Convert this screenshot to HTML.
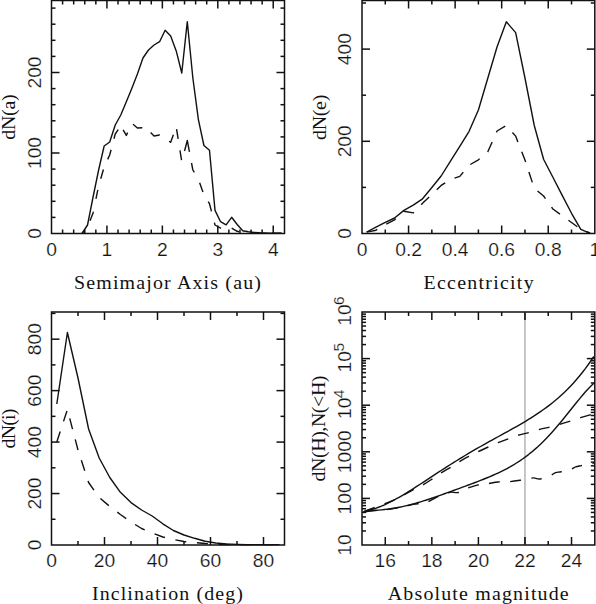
<!DOCTYPE html>
<html><head><meta charset="utf-8"><style>
html,body{margin:0;padding:0;background:#fff;overflow:hidden;width:596px;height:604px;}
svg{display:block;}
</style></head><body>
<svg width="596" height="604" viewBox="0 0 596 604">
<rect width="596" height="604" fill="#fff"/>
<rect x="51.5" y="0.5" width="233.0" height="233.0" fill="none" stroke="#111" stroke-width="1.5"/>
<line x1="62.59" y1="233.50" x2="62.59" y2="229.50" stroke="#111" stroke-width="1.5"/>
<line x1="62.59" y1="0.50" x2="62.59" y2="4.50" stroke="#111" stroke-width="1.5"/>
<line x1="73.67" y1="233.50" x2="73.67" y2="229.50" stroke="#111" stroke-width="1.5"/>
<line x1="73.67" y1="0.50" x2="73.67" y2="4.50" stroke="#111" stroke-width="1.5"/>
<line x1="84.76" y1="233.50" x2="84.76" y2="229.50" stroke="#111" stroke-width="1.5"/>
<line x1="84.76" y1="0.50" x2="84.76" y2="4.50" stroke="#111" stroke-width="1.5"/>
<line x1="95.84" y1="233.50" x2="95.84" y2="229.50" stroke="#111" stroke-width="1.5"/>
<line x1="95.84" y1="0.50" x2="95.84" y2="4.50" stroke="#111" stroke-width="1.5"/>
<line x1="106.93" y1="233.50" x2="106.93" y2="225.50" stroke="#111" stroke-width="1.5"/>
<line x1="106.93" y1="0.50" x2="106.93" y2="8.50" stroke="#111" stroke-width="1.5"/>
<line x1="118.02" y1="233.50" x2="118.02" y2="229.50" stroke="#111" stroke-width="1.5"/>
<line x1="118.02" y1="0.50" x2="118.02" y2="4.50" stroke="#111" stroke-width="1.5"/>
<line x1="129.10" y1="233.50" x2="129.10" y2="229.50" stroke="#111" stroke-width="1.5"/>
<line x1="129.10" y1="0.50" x2="129.10" y2="4.50" stroke="#111" stroke-width="1.5"/>
<line x1="140.19" y1="233.50" x2="140.19" y2="229.50" stroke="#111" stroke-width="1.5"/>
<line x1="140.19" y1="0.50" x2="140.19" y2="4.50" stroke="#111" stroke-width="1.5"/>
<line x1="151.27" y1="233.50" x2="151.27" y2="229.50" stroke="#111" stroke-width="1.5"/>
<line x1="151.27" y1="0.50" x2="151.27" y2="4.50" stroke="#111" stroke-width="1.5"/>
<line x1="162.36" y1="233.50" x2="162.36" y2="225.50" stroke="#111" stroke-width="1.5"/>
<line x1="162.36" y1="0.50" x2="162.36" y2="8.50" stroke="#111" stroke-width="1.5"/>
<line x1="173.45" y1="233.50" x2="173.45" y2="229.50" stroke="#111" stroke-width="1.5"/>
<line x1="173.45" y1="0.50" x2="173.45" y2="4.50" stroke="#111" stroke-width="1.5"/>
<line x1="184.53" y1="233.50" x2="184.53" y2="229.50" stroke="#111" stroke-width="1.5"/>
<line x1="184.53" y1="0.50" x2="184.53" y2="4.50" stroke="#111" stroke-width="1.5"/>
<line x1="195.62" y1="233.50" x2="195.62" y2="229.50" stroke="#111" stroke-width="1.5"/>
<line x1="195.62" y1="0.50" x2="195.62" y2="4.50" stroke="#111" stroke-width="1.5"/>
<line x1="206.70" y1="233.50" x2="206.70" y2="229.50" stroke="#111" stroke-width="1.5"/>
<line x1="206.70" y1="0.50" x2="206.70" y2="4.50" stroke="#111" stroke-width="1.5"/>
<line x1="217.79" y1="233.50" x2="217.79" y2="225.50" stroke="#111" stroke-width="1.5"/>
<line x1="217.79" y1="0.50" x2="217.79" y2="8.50" stroke="#111" stroke-width="1.5"/>
<line x1="228.88" y1="233.50" x2="228.88" y2="229.50" stroke="#111" stroke-width="1.5"/>
<line x1="228.88" y1="0.50" x2="228.88" y2="4.50" stroke="#111" stroke-width="1.5"/>
<line x1="239.96" y1="233.50" x2="239.96" y2="229.50" stroke="#111" stroke-width="1.5"/>
<line x1="239.96" y1="0.50" x2="239.96" y2="4.50" stroke="#111" stroke-width="1.5"/>
<line x1="251.05" y1="233.50" x2="251.05" y2="229.50" stroke="#111" stroke-width="1.5"/>
<line x1="251.05" y1="0.50" x2="251.05" y2="4.50" stroke="#111" stroke-width="1.5"/>
<line x1="262.13" y1="233.50" x2="262.13" y2="229.50" stroke="#111" stroke-width="1.5"/>
<line x1="262.13" y1="0.50" x2="262.13" y2="4.50" stroke="#111" stroke-width="1.5"/>
<line x1="273.22" y1="233.50" x2="273.22" y2="225.50" stroke="#111" stroke-width="1.5"/>
<line x1="273.22" y1="0.50" x2="273.22" y2="8.50" stroke="#111" stroke-width="1.5"/>
<line x1="51.50" y1="217.40" x2="55.50" y2="217.40" stroke="#111" stroke-width="1.5"/>
<line x1="284.50" y1="217.40" x2="280.50" y2="217.40" stroke="#111" stroke-width="1.5"/>
<line x1="51.50" y1="201.30" x2="55.50" y2="201.30" stroke="#111" stroke-width="1.5"/>
<line x1="284.50" y1="201.30" x2="280.50" y2="201.30" stroke="#111" stroke-width="1.5"/>
<line x1="51.50" y1="185.20" x2="55.50" y2="185.20" stroke="#111" stroke-width="1.5"/>
<line x1="284.50" y1="185.20" x2="280.50" y2="185.20" stroke="#111" stroke-width="1.5"/>
<line x1="51.50" y1="169.10" x2="55.50" y2="169.10" stroke="#111" stroke-width="1.5"/>
<line x1="284.50" y1="169.10" x2="280.50" y2="169.10" stroke="#111" stroke-width="1.5"/>
<line x1="51.50" y1="153.00" x2="59.50" y2="153.00" stroke="#111" stroke-width="1.5"/>
<line x1="284.50" y1="153.00" x2="276.50" y2="153.00" stroke="#111" stroke-width="1.5"/>
<line x1="51.50" y1="136.90" x2="55.50" y2="136.90" stroke="#111" stroke-width="1.5"/>
<line x1="284.50" y1="136.90" x2="280.50" y2="136.90" stroke="#111" stroke-width="1.5"/>
<line x1="51.50" y1="120.80" x2="55.50" y2="120.80" stroke="#111" stroke-width="1.5"/>
<line x1="284.50" y1="120.80" x2="280.50" y2="120.80" stroke="#111" stroke-width="1.5"/>
<line x1="51.50" y1="104.70" x2="55.50" y2="104.70" stroke="#111" stroke-width="1.5"/>
<line x1="284.50" y1="104.70" x2="280.50" y2="104.70" stroke="#111" stroke-width="1.5"/>
<line x1="51.50" y1="88.60" x2="55.50" y2="88.60" stroke="#111" stroke-width="1.5"/>
<line x1="284.50" y1="88.60" x2="280.50" y2="88.60" stroke="#111" stroke-width="1.5"/>
<line x1="51.50" y1="72.50" x2="59.50" y2="72.50" stroke="#111" stroke-width="1.5"/>
<line x1="284.50" y1="72.50" x2="276.50" y2="72.50" stroke="#111" stroke-width="1.5"/>
<line x1="51.50" y1="56.40" x2="55.50" y2="56.40" stroke="#111" stroke-width="1.5"/>
<line x1="284.50" y1="56.40" x2="280.50" y2="56.40" stroke="#111" stroke-width="1.5"/>
<line x1="51.50" y1="40.30" x2="55.50" y2="40.30" stroke="#111" stroke-width="1.5"/>
<line x1="284.50" y1="40.30" x2="280.50" y2="40.30" stroke="#111" stroke-width="1.5"/>
<line x1="51.50" y1="24.20" x2="55.50" y2="24.20" stroke="#111" stroke-width="1.5"/>
<line x1="284.50" y1="24.20" x2="280.50" y2="24.20" stroke="#111" stroke-width="1.5"/>
<line x1="51.50" y1="8.10" x2="55.50" y2="8.10" stroke="#111" stroke-width="1.5"/>
<line x1="284.50" y1="8.10" x2="280.50" y2="8.10" stroke="#111" stroke-width="1.5"/>
<polyline points="81.99,233.50 87.53,225.00 93.07,197.00 98.62,170.00 104.16,146.00 109.70,142.00 115.24,125.00 120.79,115.00 126.33,101.70 131.87,88.30 137.42,74.00 142.96,58.00 148.50,50.00 154.05,45.00 159.59,41.70 165.13,30.30 170.67,36.10 176.22,50.90 181.76,73.00 187.30,21.70 192.85,78.00 198.39,119.60 203.93,145.50 209.48,150.20 215.02,210.40 220.56,221.70 226.10,224.80 231.65,217.30 237.19,224.50 242.73,230.80 248.28,231.80 253.82,232.40 259.36,232.80 264.91,233.00 270.45,233.10 275.99,233.20 281.53,233.20" fill="none" stroke="#111" stroke-width="1.4" stroke-linejoin="round"/>
<polyline points="82.32,233.11 84.31,230.77" fill="none" stroke="#111" stroke-width="1.4" stroke-linejoin="round"/>
<polyline points="90.01,220.75 93.07,213.00 93.33,211.73" fill="none" stroke="#111" stroke-width="1.4" stroke-linejoin="round"/>
<polyline points="95.95,198.98 97.80,189.97" fill="none" stroke="#111" stroke-width="1.4" stroke-linejoin="round"/>
<polyline points="100.74,178.72 103.41,169.55" fill="none" stroke="#111" stroke-width="1.4" stroke-linejoin="round"/>
<polyline points="107.68,159.37 109.70,155.00 111.08,149.78" fill="none" stroke="#111" stroke-width="1.4" stroke-linejoin="round"/>
<polyline points="114.00,138.71 115.24,134.00 118.21,129.61" fill="none" stroke="#111" stroke-width="1.4" stroke-linejoin="round"/>
<polyline points="123.13,129.86 126.33,135.40 127.61,132.59" fill="none" stroke="#111" stroke-width="1.4" stroke-linejoin="round"/>
<polyline points="133.05,124.22 137.42,128.00 142.30,127.82" fill="none" stroke="#111" stroke-width="1.4" stroke-linejoin="round"/>
<polyline points="150.61,132.60 154.05,136.00 159.59,135.00 159.77,135.12" fill="none" stroke="#111" stroke-width="1.4" stroke-linejoin="round"/>
<polyline points="169.18,141.28 170.67,142.30 173.39,134.82" fill="none" stroke="#111" stroke-width="1.4" stroke-linejoin="round"/>
<polyline points="176.57,129.18 178.14,138.94" fill="none" stroke="#111" stroke-width="1.4" stroke-linejoin="round"/>
<polyline points="179.96,150.30 181.55,160.20" fill="none" stroke="#111" stroke-width="1.4" stroke-linejoin="round"/>
<polyline points="184.54,150.98 187.30,140.50 189.45,151.95" fill="none" stroke="#111" stroke-width="1.4" stroke-linejoin="round"/>
<polyline points="191.53,163.00 192.85,170.00 194.35,172.45" fill="none" stroke="#111" stroke-width="1.4" stroke-linejoin="round"/>
<polyline points="199.65,182.65 202.90,192.01" fill="none" stroke="#111" stroke-width="1.4" stroke-linejoin="round"/>
<polyline points="208.19,201.69 209.48,203.70 211.46,211.34" fill="none" stroke="#111" stroke-width="1.4" stroke-linejoin="round"/>
<polyline points="214.39,222.57 215.02,225.00 220.56,228.10 221.10,228.12" fill="none" stroke="#111" stroke-width="1.4" stroke-linejoin="round"/>
<polyline points="231.69,228.13 237.19,231.30 239.22,231.85" fill="none" stroke="#111" stroke-width="1.4" stroke-linejoin="round"/>
<polyline points="250.08,233.23 253.82,233.30 259.36,233.30 260.58,233.30" fill="none" stroke="#111" stroke-width="1.4" stroke-linejoin="round"/>
<polyline points="271.58,233.30 275.99,233.30 281.53,233.30" fill="none" stroke="#111" stroke-width="1.4" stroke-linejoin="round"/>
<text transform="translate(51.50,255.60) scale(1.07,1)" text-anchor="middle" font-family="&quot;Liberation Sans&quot;, sans-serif" font-size="18" fill="#111" stroke="#fff" stroke-width="0.2">0</text>
<text transform="translate(106.93,255.60) scale(1.07,1)" text-anchor="middle" font-family="&quot;Liberation Sans&quot;, sans-serif" font-size="18" fill="#111" stroke="#fff" stroke-width="0.2">1</text>
<text transform="translate(162.36,255.60) scale(1.07,1)" text-anchor="middle" font-family="&quot;Liberation Sans&quot;, sans-serif" font-size="18" fill="#111" stroke="#fff" stroke-width="0.2">2</text>
<text transform="translate(217.79,255.60) scale(1.07,1)" text-anchor="middle" font-family="&quot;Liberation Sans&quot;, sans-serif" font-size="18" fill="#111" stroke="#fff" stroke-width="0.2">3</text>
<text transform="translate(273.22,255.60) scale(1.07,1)" text-anchor="middle" font-family="&quot;Liberation Sans&quot;, sans-serif" font-size="18" fill="#111" stroke="#fff" stroke-width="0.2">4</text>
<text transform="translate(40.70,233.50) rotate(-90) scale(1.07,1)" text-anchor="middle" font-family="&quot;Liberation Sans&quot;, sans-serif" font-size="18" fill="#111" stroke="#fff" stroke-width="0.2">0</text>
<text transform="translate(40.70,153.00) rotate(-90) scale(1.07,1)" text-anchor="middle" font-family="&quot;Liberation Sans&quot;, sans-serif" font-size="18" fill="#111" stroke="#fff" stroke-width="0.2">100</text>
<text transform="translate(40.70,72.50) rotate(-90) scale(1.07,1)" text-anchor="middle" font-family="&quot;Liberation Sans&quot;, sans-serif" font-size="18" fill="#111" stroke="#fff" stroke-width="0.2">200</text>
<text transform="translate(74.00,289.00) scale(1.12,1)" font-family="&quot;Liberation Serif&quot;, serif" font-size="17.8" fill="#111" textLength="166.88" lengthAdjust="spacing">Semimajor Axis (au)</text>
<text transform="translate(14.90,139.80) rotate(-90) scale(1.12,1)" font-family="&quot;Liberation Serif&quot;, serif" font-size="17.8" fill="#111" textLength="40.62" lengthAdjust="spacing">dN(a)</text>
<rect x="362.0" y="0.5" width="232.79999999999995" height="233.0" fill="none" stroke="#111" stroke-width="1.5"/>
<line x1="385.28" y1="233.50" x2="385.28" y2="229.50" stroke="#111" stroke-width="1.5"/>
<line x1="385.28" y1="0.50" x2="385.28" y2="4.50" stroke="#111" stroke-width="1.5"/>
<line x1="408.56" y1="233.50" x2="408.56" y2="225.50" stroke="#111" stroke-width="1.5"/>
<line x1="408.56" y1="0.50" x2="408.56" y2="8.50" stroke="#111" stroke-width="1.5"/>
<line x1="431.84" y1="233.50" x2="431.84" y2="229.50" stroke="#111" stroke-width="1.5"/>
<line x1="431.84" y1="0.50" x2="431.84" y2="4.50" stroke="#111" stroke-width="1.5"/>
<line x1="455.12" y1="233.50" x2="455.12" y2="225.50" stroke="#111" stroke-width="1.5"/>
<line x1="455.12" y1="0.50" x2="455.12" y2="8.50" stroke="#111" stroke-width="1.5"/>
<line x1="478.40" y1="233.50" x2="478.40" y2="229.50" stroke="#111" stroke-width="1.5"/>
<line x1="478.40" y1="0.50" x2="478.40" y2="4.50" stroke="#111" stroke-width="1.5"/>
<line x1="501.68" y1="233.50" x2="501.68" y2="225.50" stroke="#111" stroke-width="1.5"/>
<line x1="501.68" y1="0.50" x2="501.68" y2="8.50" stroke="#111" stroke-width="1.5"/>
<line x1="524.96" y1="233.50" x2="524.96" y2="229.50" stroke="#111" stroke-width="1.5"/>
<line x1="524.96" y1="0.50" x2="524.96" y2="4.50" stroke="#111" stroke-width="1.5"/>
<line x1="548.24" y1="233.50" x2="548.24" y2="225.50" stroke="#111" stroke-width="1.5"/>
<line x1="548.24" y1="0.50" x2="548.24" y2="8.50" stroke="#111" stroke-width="1.5"/>
<line x1="571.52" y1="233.50" x2="571.52" y2="229.50" stroke="#111" stroke-width="1.5"/>
<line x1="571.52" y1="0.50" x2="571.52" y2="4.50" stroke="#111" stroke-width="1.5"/>
<line x1="362.00" y1="187.40" x2="366.00" y2="187.40" stroke="#111" stroke-width="1.5"/>
<line x1="594.80" y1="187.40" x2="590.80" y2="187.40" stroke="#111" stroke-width="1.5"/>
<line x1="362.00" y1="141.30" x2="370.00" y2="141.30" stroke="#111" stroke-width="1.5"/>
<line x1="594.80" y1="141.30" x2="586.80" y2="141.30" stroke="#111" stroke-width="1.5"/>
<line x1="362.00" y1="95.20" x2="366.00" y2="95.20" stroke="#111" stroke-width="1.5"/>
<line x1="594.80" y1="95.20" x2="590.80" y2="95.20" stroke="#111" stroke-width="1.5"/>
<line x1="362.00" y1="49.10" x2="370.00" y2="49.10" stroke="#111" stroke-width="1.5"/>
<line x1="594.80" y1="49.10" x2="586.80" y2="49.10" stroke="#111" stroke-width="1.5"/>
<line x1="362.00" y1="3.00" x2="366.00" y2="3.00" stroke="#111" stroke-width="1.5"/>
<line x1="594.80" y1="3.00" x2="590.80" y2="3.00" stroke="#111" stroke-width="1.5"/>
<polyline points="366.66,232.00 375.97,227.10 385.28,222.40 394.59,218.00 403.90,210.40 413.22,205.20 422.53,198.80 431.84,187.50 441.15,176.00 450.46,161.20 459.78,146.30 469.09,131.30 478.40,110.00 487.71,78.50 497.02,47.00 506.34,21.80 515.65,32.60 524.96,78.00 534.27,125.50 543.58,159.20 552.90,177.20 562.21,195.40 571.52,213.30 580.83,229.30 590.14,233.30" fill="none" stroke="#111" stroke-width="1.4" stroke-linejoin="round"/>
<polyline points="366.66,232.10 375.97,230.20 385.28,224.50 394.59,219.80 403.90,211.20 413.22,212.90 422.53,203.30 431.84,194.50 441.15,185.40 450.46,179.50 459.78,176.40 469.09,165.20 478.40,159.80 487.71,152.00 497.02,131.00 506.34,125.60 515.65,136.10 524.96,160.00 534.27,188.30 543.58,196.00 552.90,209.00 562.21,215.70 571.52,222.50 580.83,229.30 590.14,233.00" fill="none" stroke="#111" stroke-width="1.4" stroke-linejoin="round" stroke-dasharray="11,10.5" stroke-dashoffset="0"/>
<text transform="translate(362.00,255.60) scale(1.07,1)" text-anchor="middle" font-family="&quot;Liberation Sans&quot;, sans-serif" font-size="18" fill="#111" stroke="#fff" stroke-width="0.2">0</text>
<text transform="translate(408.56,255.60) scale(1.07,1)" text-anchor="middle" font-family="&quot;Liberation Sans&quot;, sans-serif" font-size="18" fill="#111" stroke="#fff" stroke-width="0.2">0.2</text>
<text transform="translate(455.12,255.60) scale(1.07,1)" text-anchor="middle" font-family="&quot;Liberation Sans&quot;, sans-serif" font-size="18" fill="#111" stroke="#fff" stroke-width="0.2">0.4</text>
<text transform="translate(501.68,255.60) scale(1.07,1)" text-anchor="middle" font-family="&quot;Liberation Sans&quot;, sans-serif" font-size="18" fill="#111" stroke="#fff" stroke-width="0.2">0.6</text>
<text transform="translate(548.24,255.60) scale(1.07,1)" text-anchor="middle" font-family="&quot;Liberation Sans&quot;, sans-serif" font-size="18" fill="#111" stroke="#fff" stroke-width="0.2">0.8</text>
<text transform="translate(594.80,255.60) scale(1.07,1)" text-anchor="middle" font-family="&quot;Liberation Sans&quot;, sans-serif" font-size="18" fill="#111" stroke="#fff" stroke-width="0.2">1</text>
<text transform="translate(351.20,233.50) rotate(-90) scale(1.07,1)" text-anchor="middle" font-family="&quot;Liberation Sans&quot;, sans-serif" font-size="18" fill="#111" stroke="#fff" stroke-width="0.2">0</text>
<text transform="translate(351.20,141.30) rotate(-90) scale(1.07,1)" text-anchor="middle" font-family="&quot;Liberation Sans&quot;, sans-serif" font-size="18" fill="#111" stroke="#fff" stroke-width="0.2">200</text>
<text transform="translate(351.20,49.10) rotate(-90) scale(1.07,1)" text-anchor="middle" font-family="&quot;Liberation Sans&quot;, sans-serif" font-size="18" fill="#111" stroke="#fff" stroke-width="0.2">400</text>
<text transform="translate(423.60,289.00) scale(1.12,1)" font-family="&quot;Liberation Serif&quot;, serif" font-size="17.8" fill="#111" textLength="98.21" lengthAdjust="spacing">Eccentricity</text>
<text transform="translate(326.00,140.00) rotate(-90) scale(1.12,1)" font-family="&quot;Liberation Serif&quot;, serif" font-size="17.8" fill="#111" textLength="40.45" lengthAdjust="spacing">dN(e)</text>
<rect x="51.5" y="312.0" width="233.0" height="233.0" fill="none" stroke="#111" stroke-width="1.5"/>
<line x1="78.00" y1="545.00" x2="78.00" y2="541.00" stroke="#111" stroke-width="1.5"/>
<line x1="78.00" y1="312.00" x2="78.00" y2="316.00" stroke="#111" stroke-width="1.5"/>
<line x1="104.50" y1="545.00" x2="104.50" y2="537.00" stroke="#111" stroke-width="1.5"/>
<line x1="104.50" y1="312.00" x2="104.50" y2="320.00" stroke="#111" stroke-width="1.5"/>
<line x1="131.00" y1="545.00" x2="131.00" y2="541.00" stroke="#111" stroke-width="1.5"/>
<line x1="131.00" y1="312.00" x2="131.00" y2="316.00" stroke="#111" stroke-width="1.5"/>
<line x1="157.50" y1="545.00" x2="157.50" y2="537.00" stroke="#111" stroke-width="1.5"/>
<line x1="157.50" y1="312.00" x2="157.50" y2="320.00" stroke="#111" stroke-width="1.5"/>
<line x1="184.00" y1="545.00" x2="184.00" y2="541.00" stroke="#111" stroke-width="1.5"/>
<line x1="184.00" y1="312.00" x2="184.00" y2="316.00" stroke="#111" stroke-width="1.5"/>
<line x1="210.50" y1="545.00" x2="210.50" y2="537.00" stroke="#111" stroke-width="1.5"/>
<line x1="210.50" y1="312.00" x2="210.50" y2="320.00" stroke="#111" stroke-width="1.5"/>
<line x1="237.00" y1="545.00" x2="237.00" y2="541.00" stroke="#111" stroke-width="1.5"/>
<line x1="237.00" y1="312.00" x2="237.00" y2="316.00" stroke="#111" stroke-width="1.5"/>
<line x1="263.50" y1="545.00" x2="263.50" y2="537.00" stroke="#111" stroke-width="1.5"/>
<line x1="263.50" y1="312.00" x2="263.50" y2="320.00" stroke="#111" stroke-width="1.5"/>
<line x1="51.50" y1="519.27" x2="55.50" y2="519.27" stroke="#111" stroke-width="1.5"/>
<line x1="284.50" y1="519.27" x2="280.50" y2="519.27" stroke="#111" stroke-width="1.5"/>
<line x1="51.50" y1="493.54" x2="59.50" y2="493.54" stroke="#111" stroke-width="1.5"/>
<line x1="284.50" y1="493.54" x2="276.50" y2="493.54" stroke="#111" stroke-width="1.5"/>
<line x1="51.50" y1="467.81" x2="55.50" y2="467.81" stroke="#111" stroke-width="1.5"/>
<line x1="284.50" y1="467.81" x2="280.50" y2="467.81" stroke="#111" stroke-width="1.5"/>
<line x1="51.50" y1="442.08" x2="59.50" y2="442.08" stroke="#111" stroke-width="1.5"/>
<line x1="284.50" y1="442.08" x2="276.50" y2="442.08" stroke="#111" stroke-width="1.5"/>
<line x1="51.50" y1="416.35" x2="55.50" y2="416.35" stroke="#111" stroke-width="1.5"/>
<line x1="284.50" y1="416.35" x2="280.50" y2="416.35" stroke="#111" stroke-width="1.5"/>
<line x1="51.50" y1="390.62" x2="59.50" y2="390.62" stroke="#111" stroke-width="1.5"/>
<line x1="284.50" y1="390.62" x2="276.50" y2="390.62" stroke="#111" stroke-width="1.5"/>
<line x1="51.50" y1="364.89" x2="55.50" y2="364.89" stroke="#111" stroke-width="1.5"/>
<line x1="284.50" y1="364.89" x2="280.50" y2="364.89" stroke="#111" stroke-width="1.5"/>
<line x1="51.50" y1="339.16" x2="59.50" y2="339.16" stroke="#111" stroke-width="1.5"/>
<line x1="284.50" y1="339.16" x2="276.50" y2="339.16" stroke="#111" stroke-width="1.5"/>
<line x1="51.50" y1="313.43" x2="55.50" y2="313.43" stroke="#111" stroke-width="1.5"/>
<line x1="284.50" y1="313.43" x2="280.50" y2="313.43" stroke="#111" stroke-width="1.5"/>
<polyline points="56.80,404.00 67.40,332.50 78.00,378.00 88.60,429.00 99.20,458.00 109.80,477.50 120.40,492.30 131.00,502.60 141.60,510.00 152.20,516.00 162.80,523.80 173.40,530.50 184.00,535.00 194.60,538.30 205.20,541.20 215.80,543.00 226.40,544.00 237.00,544.40 247.60,544.60 258.20,544.60 268.80,544.60 279.40,544.60" fill="none" stroke="#111" stroke-width="1.4" stroke-linejoin="round"/>
<polyline points="56.80,442.00 67.40,409.50 78.00,450.00 88.60,482.50 99.20,497.50 109.80,506.50 120.40,514.50 131.00,522.00 141.60,528.50 152.20,533.00 162.80,537.00 173.40,539.50 184.00,541.50 194.60,542.50 205.20,543.50 215.80,544.20 226.40,544.50 237.00,544.60 247.60,544.60 258.20,544.60 268.80,544.60 279.40,544.60" fill="none" stroke="#111" stroke-width="1.4" stroke-linejoin="round" stroke-dasharray="11,10.7" stroke-dashoffset="0"/>
<text transform="translate(51.50,566.90) scale(1.07,1)" text-anchor="middle" font-family="&quot;Liberation Sans&quot;, sans-serif" font-size="18" fill="#111" stroke="#fff" stroke-width="0.2">0</text>
<text transform="translate(104.50,566.90) scale(1.07,1)" text-anchor="middle" font-family="&quot;Liberation Sans&quot;, sans-serif" font-size="18" fill="#111" stroke="#fff" stroke-width="0.2">20</text>
<text transform="translate(157.50,566.90) scale(1.07,1)" text-anchor="middle" font-family="&quot;Liberation Sans&quot;, sans-serif" font-size="18" fill="#111" stroke="#fff" stroke-width="0.2">40</text>
<text transform="translate(210.50,566.90) scale(1.07,1)" text-anchor="middle" font-family="&quot;Liberation Sans&quot;, sans-serif" font-size="18" fill="#111" stroke="#fff" stroke-width="0.2">60</text>
<text transform="translate(263.50,566.90) scale(1.07,1)" text-anchor="middle" font-family="&quot;Liberation Sans&quot;, sans-serif" font-size="18" fill="#111" stroke="#fff" stroke-width="0.2">80</text>
<text transform="translate(40.70,545.00) rotate(-90) scale(1.07,1)" text-anchor="middle" font-family="&quot;Liberation Sans&quot;, sans-serif" font-size="18" fill="#111" stroke="#fff" stroke-width="0.2">0</text>
<text transform="translate(40.70,493.54) rotate(-90) scale(1.07,1)" text-anchor="middle" font-family="&quot;Liberation Sans&quot;, sans-serif" font-size="18" fill="#111" stroke="#fff" stroke-width="0.2">200</text>
<text transform="translate(40.70,442.08) rotate(-90) scale(1.07,1)" text-anchor="middle" font-family="&quot;Liberation Sans&quot;, sans-serif" font-size="18" fill="#111" stroke="#fff" stroke-width="0.2">400</text>
<text transform="translate(40.70,390.62) rotate(-90) scale(1.07,1)" text-anchor="middle" font-family="&quot;Liberation Sans&quot;, sans-serif" font-size="18" fill="#111" stroke="#fff" stroke-width="0.2">600</text>
<text transform="translate(40.70,339.16) rotate(-90) scale(1.07,1)" text-anchor="middle" font-family="&quot;Liberation Sans&quot;, sans-serif" font-size="18" fill="#111" stroke="#fff" stroke-width="0.2">800</text>
<text transform="translate(92.00,600.30) scale(1.12,1)" font-family="&quot;Liberation Serif&quot;, serif" font-size="17.8" fill="#111" textLength="134.73" lengthAdjust="spacing">Inclination (deg)</text>
<text transform="translate(14.90,448.50) rotate(-90) scale(1.12,1)" font-family="&quot;Liberation Serif&quot;, serif" font-size="17.8" fill="#111" textLength="35.71" lengthAdjust="spacing">dN(i)</text>
<rect x="362.0" y="312.0" width="232.79999999999995" height="233.0" fill="none" stroke="#111" stroke-width="1.5"/>
<line x1="385.28" y1="545.00" x2="385.28" y2="537.00" stroke="#111" stroke-width="1.5"/>
<line x1="385.28" y1="312.00" x2="385.28" y2="320.00" stroke="#111" stroke-width="1.5"/>
<line x1="408.56" y1="545.00" x2="408.56" y2="541.00" stroke="#111" stroke-width="1.5"/>
<line x1="408.56" y1="312.00" x2="408.56" y2="316.00" stroke="#111" stroke-width="1.5"/>
<line x1="431.84" y1="545.00" x2="431.84" y2="537.00" stroke="#111" stroke-width="1.5"/>
<line x1="431.84" y1="312.00" x2="431.84" y2="320.00" stroke="#111" stroke-width="1.5"/>
<line x1="455.12" y1="545.00" x2="455.12" y2="541.00" stroke="#111" stroke-width="1.5"/>
<line x1="455.12" y1="312.00" x2="455.12" y2="316.00" stroke="#111" stroke-width="1.5"/>
<line x1="478.40" y1="545.00" x2="478.40" y2="537.00" stroke="#111" stroke-width="1.5"/>
<line x1="478.40" y1="312.00" x2="478.40" y2="320.00" stroke="#111" stroke-width="1.5"/>
<line x1="501.68" y1="545.00" x2="501.68" y2="541.00" stroke="#111" stroke-width="1.5"/>
<line x1="501.68" y1="312.00" x2="501.68" y2="316.00" stroke="#111" stroke-width="1.5"/>
<line x1="524.96" y1="545.00" x2="524.96" y2="537.00" stroke="#111" stroke-width="1.5"/>
<line x1="524.96" y1="312.00" x2="524.96" y2="320.00" stroke="#111" stroke-width="1.5"/>
<line x1="548.24" y1="545.00" x2="548.24" y2="541.00" stroke="#111" stroke-width="1.5"/>
<line x1="548.24" y1="312.00" x2="548.24" y2="316.00" stroke="#111" stroke-width="1.5"/>
<line x1="571.52" y1="545.00" x2="571.52" y2="537.00" stroke="#111" stroke-width="1.5"/>
<line x1="571.52" y1="312.00" x2="571.52" y2="320.00" stroke="#111" stroke-width="1.5"/>
<line x1="362.00" y1="530.97" x2="366.00" y2="530.97" stroke="#111" stroke-width="1.5"/>
<line x1="594.80" y1="530.97" x2="590.80" y2="530.97" stroke="#111" stroke-width="1.5"/>
<line x1="362.00" y1="522.77" x2="366.00" y2="522.77" stroke="#111" stroke-width="1.5"/>
<line x1="594.80" y1="522.77" x2="590.80" y2="522.77" stroke="#111" stroke-width="1.5"/>
<line x1="362.00" y1="516.94" x2="366.00" y2="516.94" stroke="#111" stroke-width="1.5"/>
<line x1="594.80" y1="516.94" x2="590.80" y2="516.94" stroke="#111" stroke-width="1.5"/>
<line x1="362.00" y1="512.43" x2="366.00" y2="512.43" stroke="#111" stroke-width="1.5"/>
<line x1="594.80" y1="512.43" x2="590.80" y2="512.43" stroke="#111" stroke-width="1.5"/>
<line x1="362.00" y1="508.74" x2="366.00" y2="508.74" stroke="#111" stroke-width="1.5"/>
<line x1="594.80" y1="508.74" x2="590.80" y2="508.74" stroke="#111" stroke-width="1.5"/>
<line x1="362.00" y1="505.62" x2="366.00" y2="505.62" stroke="#111" stroke-width="1.5"/>
<line x1="594.80" y1="505.62" x2="590.80" y2="505.62" stroke="#111" stroke-width="1.5"/>
<line x1="362.00" y1="502.92" x2="366.00" y2="502.92" stroke="#111" stroke-width="1.5"/>
<line x1="594.80" y1="502.92" x2="590.80" y2="502.92" stroke="#111" stroke-width="1.5"/>
<line x1="362.00" y1="500.53" x2="366.00" y2="500.53" stroke="#111" stroke-width="1.5"/>
<line x1="594.80" y1="500.53" x2="590.80" y2="500.53" stroke="#111" stroke-width="1.5"/>
<line x1="362.00" y1="498.40" x2="370.00" y2="498.40" stroke="#111" stroke-width="1.5"/>
<line x1="594.80" y1="498.40" x2="586.80" y2="498.40" stroke="#111" stroke-width="1.5"/>
<line x1="362.00" y1="484.37" x2="366.00" y2="484.37" stroke="#111" stroke-width="1.5"/>
<line x1="594.80" y1="484.37" x2="590.80" y2="484.37" stroke="#111" stroke-width="1.5"/>
<line x1="362.00" y1="476.17" x2="366.00" y2="476.17" stroke="#111" stroke-width="1.5"/>
<line x1="594.80" y1="476.17" x2="590.80" y2="476.17" stroke="#111" stroke-width="1.5"/>
<line x1="362.00" y1="470.34" x2="366.00" y2="470.34" stroke="#111" stroke-width="1.5"/>
<line x1="594.80" y1="470.34" x2="590.80" y2="470.34" stroke="#111" stroke-width="1.5"/>
<line x1="362.00" y1="465.83" x2="366.00" y2="465.83" stroke="#111" stroke-width="1.5"/>
<line x1="594.80" y1="465.83" x2="590.80" y2="465.83" stroke="#111" stroke-width="1.5"/>
<line x1="362.00" y1="462.14" x2="366.00" y2="462.14" stroke="#111" stroke-width="1.5"/>
<line x1="594.80" y1="462.14" x2="590.80" y2="462.14" stroke="#111" stroke-width="1.5"/>
<line x1="362.00" y1="459.02" x2="366.00" y2="459.02" stroke="#111" stroke-width="1.5"/>
<line x1="594.80" y1="459.02" x2="590.80" y2="459.02" stroke="#111" stroke-width="1.5"/>
<line x1="362.00" y1="456.32" x2="366.00" y2="456.32" stroke="#111" stroke-width="1.5"/>
<line x1="594.80" y1="456.32" x2="590.80" y2="456.32" stroke="#111" stroke-width="1.5"/>
<line x1="362.00" y1="453.93" x2="366.00" y2="453.93" stroke="#111" stroke-width="1.5"/>
<line x1="594.80" y1="453.93" x2="590.80" y2="453.93" stroke="#111" stroke-width="1.5"/>
<line x1="362.00" y1="451.80" x2="370.00" y2="451.80" stroke="#111" stroke-width="1.5"/>
<line x1="594.80" y1="451.80" x2="586.80" y2="451.80" stroke="#111" stroke-width="1.5"/>
<line x1="362.00" y1="437.77" x2="366.00" y2="437.77" stroke="#111" stroke-width="1.5"/>
<line x1="594.80" y1="437.77" x2="590.80" y2="437.77" stroke="#111" stroke-width="1.5"/>
<line x1="362.00" y1="429.57" x2="366.00" y2="429.57" stroke="#111" stroke-width="1.5"/>
<line x1="594.80" y1="429.57" x2="590.80" y2="429.57" stroke="#111" stroke-width="1.5"/>
<line x1="362.00" y1="423.74" x2="366.00" y2="423.74" stroke="#111" stroke-width="1.5"/>
<line x1="594.80" y1="423.74" x2="590.80" y2="423.74" stroke="#111" stroke-width="1.5"/>
<line x1="362.00" y1="419.23" x2="366.00" y2="419.23" stroke="#111" stroke-width="1.5"/>
<line x1="594.80" y1="419.23" x2="590.80" y2="419.23" stroke="#111" stroke-width="1.5"/>
<line x1="362.00" y1="415.54" x2="366.00" y2="415.54" stroke="#111" stroke-width="1.5"/>
<line x1="594.80" y1="415.54" x2="590.80" y2="415.54" stroke="#111" stroke-width="1.5"/>
<line x1="362.00" y1="412.42" x2="366.00" y2="412.42" stroke="#111" stroke-width="1.5"/>
<line x1="594.80" y1="412.42" x2="590.80" y2="412.42" stroke="#111" stroke-width="1.5"/>
<line x1="362.00" y1="409.72" x2="366.00" y2="409.72" stroke="#111" stroke-width="1.5"/>
<line x1="594.80" y1="409.72" x2="590.80" y2="409.72" stroke="#111" stroke-width="1.5"/>
<line x1="362.00" y1="407.33" x2="366.00" y2="407.33" stroke="#111" stroke-width="1.5"/>
<line x1="594.80" y1="407.33" x2="590.80" y2="407.33" stroke="#111" stroke-width="1.5"/>
<line x1="362.00" y1="405.20" x2="370.00" y2="405.20" stroke="#111" stroke-width="1.5"/>
<line x1="594.80" y1="405.20" x2="586.80" y2="405.20" stroke="#111" stroke-width="1.5"/>
<line x1="362.00" y1="391.17" x2="366.00" y2="391.17" stroke="#111" stroke-width="1.5"/>
<line x1="594.80" y1="391.17" x2="590.80" y2="391.17" stroke="#111" stroke-width="1.5"/>
<line x1="362.00" y1="382.97" x2="366.00" y2="382.97" stroke="#111" stroke-width="1.5"/>
<line x1="594.80" y1="382.97" x2="590.80" y2="382.97" stroke="#111" stroke-width="1.5"/>
<line x1="362.00" y1="377.14" x2="366.00" y2="377.14" stroke="#111" stroke-width="1.5"/>
<line x1="594.80" y1="377.14" x2="590.80" y2="377.14" stroke="#111" stroke-width="1.5"/>
<line x1="362.00" y1="372.63" x2="366.00" y2="372.63" stroke="#111" stroke-width="1.5"/>
<line x1="594.80" y1="372.63" x2="590.80" y2="372.63" stroke="#111" stroke-width="1.5"/>
<line x1="362.00" y1="368.94" x2="366.00" y2="368.94" stroke="#111" stroke-width="1.5"/>
<line x1="594.80" y1="368.94" x2="590.80" y2="368.94" stroke="#111" stroke-width="1.5"/>
<line x1="362.00" y1="365.82" x2="366.00" y2="365.82" stroke="#111" stroke-width="1.5"/>
<line x1="594.80" y1="365.82" x2="590.80" y2="365.82" stroke="#111" stroke-width="1.5"/>
<line x1="362.00" y1="363.12" x2="366.00" y2="363.12" stroke="#111" stroke-width="1.5"/>
<line x1="594.80" y1="363.12" x2="590.80" y2="363.12" stroke="#111" stroke-width="1.5"/>
<line x1="362.00" y1="360.73" x2="366.00" y2="360.73" stroke="#111" stroke-width="1.5"/>
<line x1="594.80" y1="360.73" x2="590.80" y2="360.73" stroke="#111" stroke-width="1.5"/>
<line x1="362.00" y1="358.60" x2="370.00" y2="358.60" stroke="#111" stroke-width="1.5"/>
<line x1="594.80" y1="358.60" x2="586.80" y2="358.60" stroke="#111" stroke-width="1.5"/>
<line x1="362.00" y1="344.57" x2="366.00" y2="344.57" stroke="#111" stroke-width="1.5"/>
<line x1="594.80" y1="344.57" x2="590.80" y2="344.57" stroke="#111" stroke-width="1.5"/>
<line x1="362.00" y1="336.37" x2="366.00" y2="336.37" stroke="#111" stroke-width="1.5"/>
<line x1="594.80" y1="336.37" x2="590.80" y2="336.37" stroke="#111" stroke-width="1.5"/>
<line x1="362.00" y1="330.54" x2="366.00" y2="330.54" stroke="#111" stroke-width="1.5"/>
<line x1="594.80" y1="330.54" x2="590.80" y2="330.54" stroke="#111" stroke-width="1.5"/>
<line x1="362.00" y1="326.03" x2="366.00" y2="326.03" stroke="#111" stroke-width="1.5"/>
<line x1="594.80" y1="326.03" x2="590.80" y2="326.03" stroke="#111" stroke-width="1.5"/>
<line x1="362.00" y1="322.34" x2="366.00" y2="322.34" stroke="#111" stroke-width="1.5"/>
<line x1="594.80" y1="322.34" x2="590.80" y2="322.34" stroke="#111" stroke-width="1.5"/>
<line x1="362.00" y1="319.22" x2="366.00" y2="319.22" stroke="#111" stroke-width="1.5"/>
<line x1="594.80" y1="319.22" x2="590.80" y2="319.22" stroke="#111" stroke-width="1.5"/>
<line x1="362.00" y1="316.52" x2="366.00" y2="316.52" stroke="#111" stroke-width="1.5"/>
<line x1="594.80" y1="316.52" x2="590.80" y2="316.52" stroke="#111" stroke-width="1.5"/>
<line x1="362.00" y1="314.13" x2="366.00" y2="314.13" stroke="#111" stroke-width="1.5"/>
<line x1="594.80" y1="314.13" x2="590.80" y2="314.13" stroke="#111" stroke-width="1.5"/>
<line x1="524.96" y1="312.00" x2="524.96" y2="545.00" stroke="#a8a8a8" stroke-width="1.3"/>
<line x1="524.96" y1="545.00" x2="524.96" y2="537.00" stroke="#111" stroke-width="1.5"/>
<line x1="524.96" y1="312.00" x2="524.96" y2="320.00" stroke="#111" stroke-width="1.5"/>
<polyline points="363.50,512.00 366.50,510.68 369.50,510.03 372.50,509.24 375.50,508.30 378.50,507.24 381.50,506.06 384.50,504.77 387.50,503.38 390.50,501.91 393.50,500.35 396.50,498.72 399.50,497.03 402.50,495.28 405.50,493.48 408.50,491.65 411.50,489.77 414.50,487.87 417.50,485.94 420.50,484.00 423.50,482.04 426.50,480.07 429.50,478.10 432.50,476.13 435.50,474.16 438.50,472.20 441.50,470.25 444.50,468.31 447.50,466.39 450.50,464.48 453.50,462.59 456.50,460.72 459.50,458.87 462.50,457.04 465.50,455.23 468.50,453.44 471.50,451.68 474.50,449.93 477.50,448.20 480.50,446.49 483.50,444.80 486.50,443.12 489.50,441.45 492.50,439.80 495.50,438.15 498.50,436.50 501.50,434.86 504.50,433.21 507.50,431.56 510.50,429.90 513.50,428.22 516.50,426.53 519.50,424.81 522.50,423.06 525.50,421.28 528.50,419.46 531.50,417.59 534.50,415.68 537.50,413.70 540.50,411.66 543.50,409.55 546.50,407.36 549.50,405.09 552.50,402.73 555.50,400.27 558.50,397.70 561.50,395.01 564.50,392.20 567.50,389.26 570.50,386.18 573.50,382.95 576.50,379.57 579.50,376.01 582.50,372.29 585.50,368.37 588.50,364.26 591.50,359.95 593.80,356.49" fill="none" stroke="#111" stroke-width="1.4" stroke-linejoin="round"/>
<polyline points="363.50,512.00 366.50,511.38 369.50,511.05 372.50,510.75 375.50,510.47 378.50,510.17 381.50,509.86 384.50,509.52 387.50,509.15 390.50,508.74 393.50,508.27 396.50,507.76 399.50,507.20 402.50,506.58 405.50,505.92 408.50,505.20 411.50,504.43 414.50,503.62 417.50,502.76 420.50,501.87 423.50,500.94 426.50,499.97 429.50,498.98 432.50,497.97 435.50,496.94 438.50,495.89 441.50,494.82 444.50,493.75 447.50,492.67 450.50,491.58 453.50,490.49 456.50,489.39 459.50,488.29 462.50,487.19 465.50,486.08 468.50,484.97 471.50,483.85 474.50,482.72 477.50,481.58 480.50,480.42 483.50,479.23 486.50,478.02 489.50,476.78 492.50,475.49 495.50,474.17 498.50,472.79 501.50,471.35 504.50,469.84 507.50,468.26 510.50,466.60 513.50,464.86 516.50,463.01 519.50,461.07 522.50,459.02 525.50,456.85 528.50,454.57 531.50,452.16 534.50,449.62 537.50,446.96 540.50,444.17 543.50,441.24 546.50,438.19 549.50,435.01 552.50,431.71 555.50,428.30 558.50,424.79 561.50,421.20 564.50,417.53 567.50,413.80 570.50,410.04 573.50,406.28 576.50,402.54 579.50,398.85 582.50,395.25 585.50,391.78 588.50,388.50 591.50,385.44 593.80,383.29" fill="none" stroke="#111" stroke-width="1.4" stroke-linejoin="round"/>
<path d="M363.50,511.60 C365.27,510.93 370.32,509.00 374.10,507.60 C377.88,506.20 381.92,504.93 386.20,503.20 C390.48,501.47 395.27,499.47 399.80,497.20 C404.33,494.93 409.47,491.70 413.40,489.60 C417.33,487.50 420.20,486.42 423.40,484.60 C426.60,482.78 429.67,480.65 432.60,478.70 C435.53,476.75 437.92,474.85 441.00,472.90 C444.08,470.95 448.02,468.88 451.10,467.00 C454.18,465.12 456.43,463.42 459.50,461.60 C462.57,459.78 466.35,457.78 469.50,456.10 C472.65,454.42 475.18,453.05 478.40,451.50 C481.62,449.95 485.52,448.28 488.80,446.80 C492.08,445.32 494.80,443.93 498.10,442.60 C501.40,441.27 505.33,440.00 508.60,438.80 C511.87,437.60 514.30,436.45 517.70,435.40 C521.10,434.35 525.50,433.45 529.00,432.50 C532.50,431.55 535.22,430.62 538.70,429.70 C542.18,428.78 546.42,427.88 549.90,427.00 C553.38,426.12 556.10,425.42 559.60,424.40 C563.10,423.38 567.42,422.02 570.90,420.90 C574.38,419.78 577.28,418.72 580.50,417.70 C583.72,416.68 587.98,415.45 590.20,414.80 C592.42,414.15 593.20,413.97 593.80,413.80" fill="none" stroke="#111" stroke-width="1.4" stroke-linejoin="round" stroke-dasharray="11,10.5" stroke-dashoffset="-1.0"/>
<path d="M363.50,512.20 C365.27,511.90 370.32,510.82 374.10,510.40 C377.88,509.98 381.92,510.18 386.20,509.70 C390.48,509.22 395.27,508.40 399.80,507.50 C404.33,506.60 409.95,504.95 413.40,504.30 C416.85,503.65 418.20,503.95 420.50,503.60 C422.80,503.25 424.32,503.37 427.20,502.20 C430.08,501.03 435.00,497.87 437.80,496.60 C440.60,495.33 441.90,495.33 444.00,494.60 C446.10,493.87 448.00,492.55 450.40,492.20 C452.80,491.85 455.63,493.13 458.40,492.50 C461.17,491.87 463.88,489.63 467.00,488.40 C470.12,487.17 473.68,485.88 477.10,485.10 C480.52,484.32 484.00,484.22 487.50,483.70 C491.00,483.18 494.52,482.33 498.10,482.00 C501.68,481.67 505.33,481.98 509.00,481.70 C512.67,481.42 516.63,480.83 520.10,480.30 C523.57,479.77 527.52,478.90 529.80,478.50 C532.08,478.10 532.05,477.82 533.80,477.90 C535.55,477.98 537.48,479.43 540.30,479.00 C543.12,478.57 548.15,476.37 550.70,475.30 C553.25,474.23 553.85,473.20 555.60,472.60 C557.35,472.00 558.65,472.25 561.20,471.70 C563.75,471.15 568.48,470.10 570.90,469.30 C573.32,468.50 573.97,467.52 575.70,466.90 C577.43,466.28 578.28,466.22 581.30,465.60 C584.32,464.98 591.72,463.60 593.80,463.20" fill="none" stroke="#111" stroke-width="1.4" stroke-linejoin="round" stroke-dasharray="11,10.3" stroke-dashoffset="-2.3"/>
<text transform="translate(385.28,566.90) scale(1.07,1)" text-anchor="middle" font-family="&quot;Liberation Sans&quot;, sans-serif" font-size="18" fill="#111" stroke="#fff" stroke-width="0.2">16</text>
<text transform="translate(431.84,566.90) scale(1.07,1)" text-anchor="middle" font-family="&quot;Liberation Sans&quot;, sans-serif" font-size="18" fill="#111" stroke="#fff" stroke-width="0.2">18</text>
<text transform="translate(478.40,566.90) scale(1.07,1)" text-anchor="middle" font-family="&quot;Liberation Sans&quot;, sans-serif" font-size="18" fill="#111" stroke="#fff" stroke-width="0.2">20</text>
<text transform="translate(524.96,566.90) scale(1.07,1)" text-anchor="middle" font-family="&quot;Liberation Sans&quot;, sans-serif" font-size="18" fill="#111" stroke="#fff" stroke-width="0.2">22</text>
<text transform="translate(571.52,566.90) scale(1.07,1)" text-anchor="middle" font-family="&quot;Liberation Sans&quot;, sans-serif" font-size="18" fill="#111" stroke="#fff" stroke-width="0.2">24</text>
<text transform="translate(351.20,451.80) rotate(-90) scale(1.07,1)" text-anchor="middle" font-family="&quot;Liberation Sans&quot;, sans-serif" font-size="18" fill="#111" stroke="#fff" stroke-width="0.2">1000</text>
<text transform="translate(351.20,498.40) rotate(-90) scale(1.07,1)" text-anchor="middle" font-family="&quot;Liberation Sans&quot;, sans-serif" font-size="18" fill="#111" stroke="#fff" stroke-width="0.2">100</text>
<text transform="translate(351.20,545.00) rotate(-90) scale(1.07,1)" text-anchor="middle" font-family="&quot;Liberation Sans&quot;, sans-serif" font-size="18" fill="#111" stroke="#fff" stroke-width="0.2">10</text>
<text transform="translate(351.20,419.00) rotate(-90) scale(1.07,1)" text-anchor="start" font-family="&quot;Liberation Sans&quot;, sans-serif" font-size="18" fill="#111" stroke="#fff" stroke-width="0.2">10</text>
<text transform="translate(343.90,398.20) rotate(-90) scale(1.07,1)" text-anchor="start" font-family="&quot;Liberation Sans&quot;, sans-serif" font-size="14.5" fill="#111" stroke="#fff" stroke-width="0.2">4</text>
<text transform="translate(351.20,372.40) rotate(-90) scale(1.07,1)" text-anchor="start" font-family="&quot;Liberation Sans&quot;, sans-serif" font-size="18" fill="#111" stroke="#fff" stroke-width="0.2">10</text>
<text transform="translate(343.90,351.60) rotate(-90) scale(1.07,1)" text-anchor="start" font-family="&quot;Liberation Sans&quot;, sans-serif" font-size="14.5" fill="#111" stroke="#fff" stroke-width="0.2">5</text>
<text transform="translate(351.20,325.80) rotate(-90) scale(1.07,1)" text-anchor="start" font-family="&quot;Liberation Sans&quot;, sans-serif" font-size="18" fill="#111" stroke="#fff" stroke-width="0.2">10</text>
<text transform="translate(343.90,305.00) rotate(-90) scale(1.07,1)" text-anchor="start" font-family="&quot;Liberation Sans&quot;, sans-serif" font-size="14.5" fill="#111" stroke="#fff" stroke-width="0.2">6</text>
<text transform="translate(387.80,600.30) scale(1.12,1)" font-family="&quot;Liberation Serif&quot;, serif" font-size="17.8" fill="#111" textLength="161.52" lengthAdjust="spacing">Absolute magnitude</text>
<text transform="translate(325.40,481.50) rotate(-90) scale(1.12,1)" font-family="&quot;Liberation Serif&quot;, serif" font-size="17.8" fill="#111" textLength="94.64" lengthAdjust="spacing">dN(H),N(&lt;H)</text>
</svg>
</body></html>
